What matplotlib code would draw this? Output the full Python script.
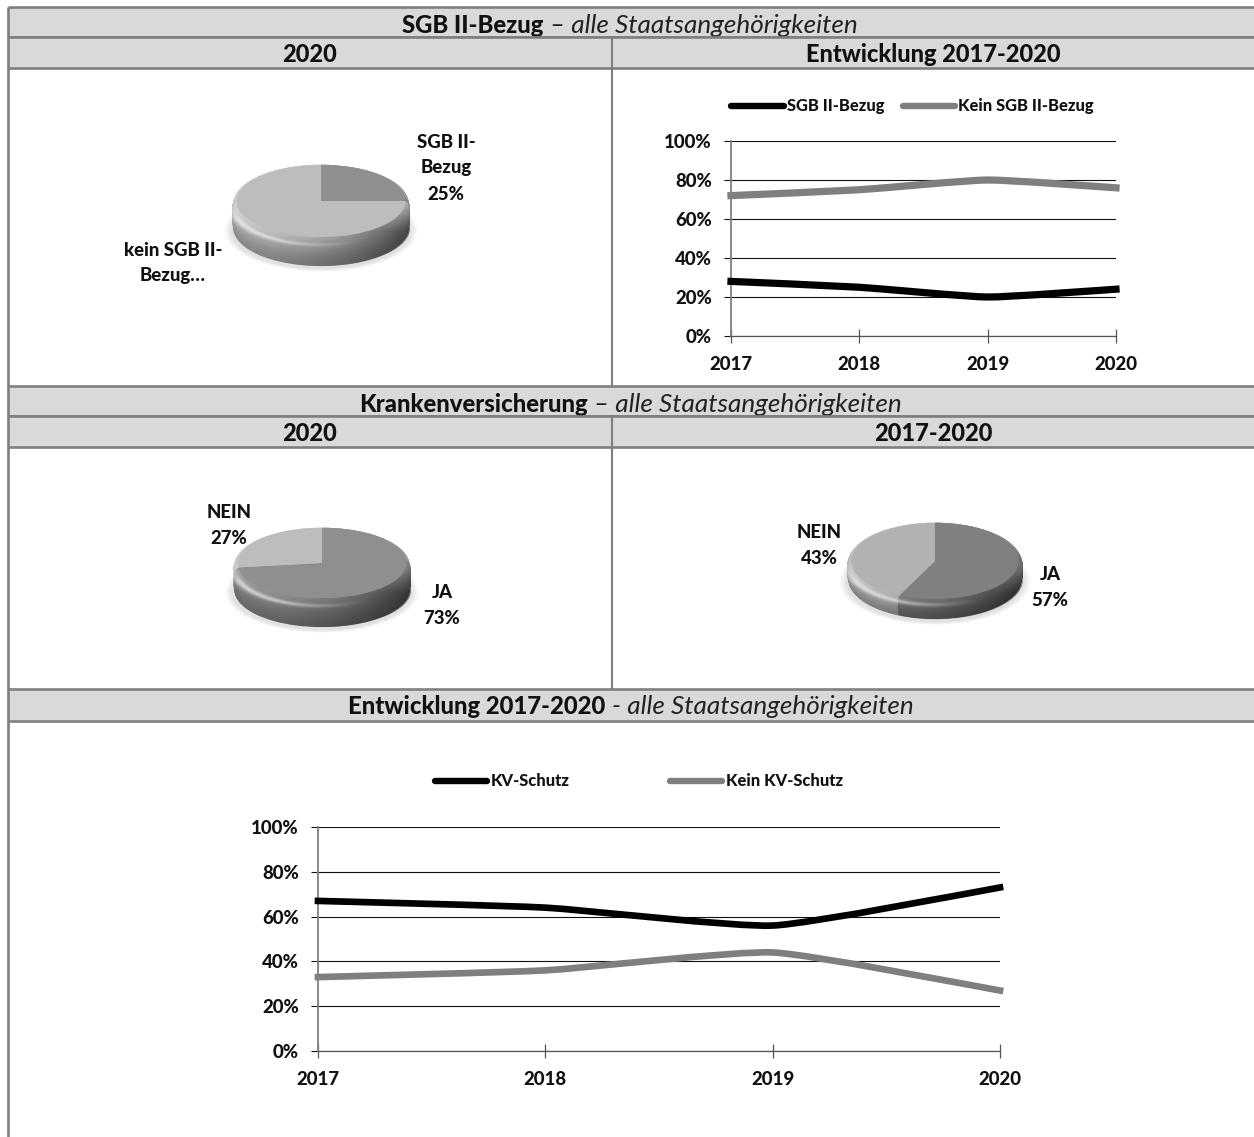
"""Datenblatt SGB II-Bezug / Krankenversicherung: Tabelle mit Kreis- und Liniendiagrammen."""
import matplotlib

matplotlib.use("Agg")
import matplotlib.pyplot as plt
import numpy as np
from matplotlib.lines import Line2D
from matplotlib.patches import Ellipse, PathPatch, Polygon, Rectangle
from matplotlib.path import Path

plt.rcParams["font.family"] = ["Lato", "DejaVu Sans"]

W, H = 1254, 1137
GRAY_LINE = "#7f7f7f"
GRAY_FILL = "#d9d9d9"
BOLD = 900

years = ["2017", "2018", "2019", "2020"]
pct_ticks = [0, 20, 40, 60, 80, 100]

sgb_ja = [28, 25, 20, 24]
sgb_nein = [72, 75, 80, 76]
kv_ja = [67, 64, 56, 73]
kv_nein = [33, 36, 44, 27]

pie_sgb = [25, 75]
pie_kv_2020 = [73, 27]
pie_kv_all = [57, 43]

fig = plt.figure(figsize=(W / 100, H / 100), dpi=100, facecolor="white")
bg = fig.add_axes([0, 0, 1, 1])
bg.set_xlim(0, W)
bg.set_ylim(H, 0)
bg.axis("off")


def px_axes(left, top, right, bottom):
    return fig.add_axes([left / W, 1 - bottom / H, (right - left) / W, (bottom - top) / H], facecolor="none")


def row(top, bottom, z):
    bg.add_patch(Rectangle((8, top), W - 8, bottom - top, fc=GRAY_FILL, ec="none", zorder=z))
    for y in (top, bottom):
        bg.plot([8, W], [y, y], color=GRAY_LINE, lw=1.9, zorder=z + 1, solid_capstyle="butt")


def title(center, base, bold, italic, z):
    a = bg.text(0, base, bold, fontsize=TITLE_SIZE, fontweight=BOLD, va="baseline", color="#111111", zorder=z)
    b = bg.text(0, base, italic, fontsize=ITALIC_SIZE, style="italic", va="baseline", color="#222222", zorder=z)
    rend = fig.canvas.get_renderer()
    wa = a.get_window_extent(rend).width
    wb = b.get_window_extent(rend).width
    gap = 6
    start = center - (wa + wb + gap) / 2
    a.set_x(start)
    b.set_x(start + wa + gap)


TITLE_SIZE = 17.2
ITALIC_SIZE = 18.8
HEAD_SIZE = 17
LABEL_SIZE = 13.4

# Tabellenraster: Kopfzeilen von oben nach unten, jede deckt die Unterlängen der vorigen ab
row(7, 37, 1)
title(630, 33, "SGB II-Bezug", "– alle Staatsangehörigkeiten", 3)
row(37, 68, 4)
row(385.5, 416, 1)
title(630.5, 412, "Krankenversicherung", "– alle Staatsangehörigkeiten", 3)
row(416, 447, 4)
row(689, 720.5, 1)
title(631, 714, "Entwicklung 2017-2020", "- alle Staatsangehörigkeiten", 3)

for y0, y1 in ((37, 385.5), (416, 689)):
    bg.plot([612, 612], [y0, y1], color=GRAY_LINE, lw=1.5, zorder=6)
bg.plot([8, 8], [7, H], color=GRAY_LINE, lw=1.9, zorder=6, solid_capstyle="butt")

for cx, base, txt in ((309.5, 62, "2020"), (933, 62, "Entwicklung 2017-2020"), (309.5, 441, "2020"), (933, 441, "2017-2020")):
    bg.text(cx, base, txt, ha="center", va="baseline", fontsize=HEAD_SIZE, fontweight=BOLD, color="#111111", zorder=7)


def shade(color, f):
    rgb = np.array(matplotlib.colors.to_rgb(color)) * f
    return tuple(np.clip(rgb, 0, 1))


def draw_pie(cx, cy, a, b, depth, values, colors):
    # Kreisdiagramm mit Wulst: gestapelte Tortenscheiben, darüber Licht und Schatten
    pad_x, pad_top, pad_bot = 14, 10, depth + 20
    ax = px_axes(cx - a - pad_x, cy - b - pad_top, cx + a + pad_x, cy + b + pad_bot)
    xlim = (-(a + pad_x) / a, (a + pad_x) / a)
    ylim = (-(b + pad_bot) / b, (b + pad_top) / b)
    dz = depth / b

    for k in range(6):
        grow = 1.0 + 0.014 * (6 - k)
        ax.add_patch(Ellipse((0, -dz - 0.04), 2 * grow, 2 * grow, fc="#000000", alpha=0.02, ec="none"))

    steps = 40
    for i in range(steps):
        t = 1 - i / (steps - 1)  # 1 unten, 0 oben
        r = 0.955 + 0.045 * np.sin(np.pi * t ** 0.75) ** 0.6 + 0.02 * t ** 4
        f = 0.74 + 0.36 * (1 - t) ** 1.5
        ax.pie(values, colors=[shade(c, f) for c in colors], startangle=90, counterclock=False,
               radius=r, center=(0, -dz * t), wedgeprops={"lw": 0}, frame=True)

    xs = np.linspace(xlim[0], xlim[1], 400)
    ys = np.linspace(ylim[0], ylim[1], 400)
    X, Y = np.meshgrid(xs, ys)
    u = np.clip(X, -1, 1)
    black = np.clip(0.02 + 0.52 * ((u + 1) / 2) ** 1.5, 0, 0.8)
    below = np.clip((-Y - 0.1) / 0.7, 0, 1)
    black = black * (0.35 + 0.65 * below)
    rho = np.sqrt(X ** 2 + (Y + dz * 0.22) ** 2)
    glow = 0.62 * np.exp(-((rho - 0.99) / 0.05) ** 2) * np.clip((0.5 - X) / 1.0, 0, 1) * np.clip(-Y * 2, 0, 1)
    rgba = np.zeros(X.shape + (4,))
    total = np.clip(black + glow, 0, 1)
    rgba[..., :3] = (glow / np.maximum(black + glow, 1e-6))[..., None]
    rgba[..., 3] = total
    im = ax.imshow(rgba, extent=(xlim[0], xlim[1], ylim[0], ylim[1]), origin="lower", aspect="auto", zorder=5)
    ang = np.linspace(0, np.pi, 90)
    upper = np.c_[np.cos(ang), np.sin(ang) - dz * 0.3]
    lower = np.c_[np.cos(ang + np.pi), np.sin(ang + np.pi) - dz * 0.97]
    hull = Polygon(np.r_[upper, lower], closed=True, transform=ax.transData, fc="none", ec="none")
    ax.add_patch(hull)
    im.set_clip_path(hull)

    ax.pie(values, colors=colors, startangle=90, counterclock=False, radius=0.95,
           wedgeprops={"lw": 0, "zorder": 6}, frame=True)
    ax.set_aspect("auto")
    ax.set_xlim(xlim)
    ax.set_ylim(ylim)
    ax.axis("off")


draw_pie(321, 201, 89, 38, 28, pie_sgb, ["#8f8f8f", "#bdbdbd"])
draw_pie(322, 563, 89, 37, 28, pie_kv_2020, ["#8f8f8f", "#bdbdbd"])
draw_pie(935, 561, 88, 40, 19, pie_kv_all, ["#808080", "#b2b2b2"])

pie_labels = [
    (446, 142, "SGB II-"), (446, 168, "Bezug"), (446, 194, "25%"),
    (173, 250, "kein SGB II-"), (173, 276, "Bezug…"),
    (229, 513, "NEIN"), (229, 539, "27%"),
    (442, 593, "JA"), (442, 619, "73%"),
    (819, 533, "NEIN"), (819, 559, "43%"),
    (1050, 574, "JA"), (1050, 600, "57%"),
]
for x, y, txt in pie_labels:
    bg.text(x, y, txt, ha="center", va="center", fontsize=LABEL_SIZE, fontweight=BOLD, color="#111111", zorder=7)


def smooth_line(ax, values, color, lw):
    # geglättete Linie als Bezier-Kurve durch die Jahreswerte
    pts = np.c_[np.arange(len(values), dtype=float), np.asarray(values, dtype=float)]
    verts = [pts[0]]
    codes = [Path.MOVETO]
    for i in range(len(pts) - 1):
        prev = pts[max(i - 1, 0)]
        nxt = pts[min(i + 2, len(pts) - 1)]
        verts += [pts[i] + (pts[i + 1] - prev) / 12, pts[i + 1] - (nxt - pts[i]) / 12, pts[i + 1]]
        codes += [Path.CURVE4] * 3
    ax.add_patch(PathPatch(Path(verts, codes), fc="none", ec=color, lw=lw, capstyle="projecting",
                           clip_on=False, zorder=4))


def line_chart(rect, a_vals, b_vals, names, legend_anchor, col_space, tick_pad_x, lw):
    ax = px_axes(*rect)
    ax.set_xlim(0, 3)
    ax.set_ylim(0, 100)
    ax.set_xticks(range(len(years)), years)
    ax.set_yticks(pct_ticks, [f"{v}%" for v in pct_ticks])
    ax.grid(axis="y", color="#111111", lw=0.8, zorder=1)
    for s in ("top", "right"):
        ax.spines[s].set_visible(False)
    ax.spines["bottom"].set_color("#555555")
    ax.spines["bottom"].set_linewidth(0.9)
    ax.spines["left"].set_color(GRAY_LINE)
    ax.spines["left"].set_linewidth(1.3)
    ax.tick_params(axis="y", length=5.2, width=0.8, color="#111111", pad=8.5, labelsize=LABEL_SIZE)
    ax.tick_params(axis="x", length=9.5, width=0.9, color="#555555", direction="inout", pad=tick_pad_x,
                   labelsize=LABEL_SIZE)
    for lab in ax.get_xticklabels() + ax.get_yticklabels():
        lab.set_fontweight(BOLD)
        lab.set_color("#111111")
    for tick in ax.xaxis.get_major_ticks():
        tick.tick1line.set_clip_on(False)
    smooth_line(ax, a_vals, "black", lw)
    smooth_line(ax, b_vals, GRAY_LINE, lw)
    handles = [Line2D([], [], color="black", lw=4.6, solid_capstyle="round"),
               Line2D([], [], color=GRAY_LINE, lw=4.6, solid_capstyle="round")]
    leg = ax.legend(handles, names, ncol=2, loc="center", bbox_to_anchor=legend_anchor,
                    bbox_transform=bg.transData, frameon=False, handlelength=3.15, handletextpad=0.2,
                    columnspacing=col_space, prop={"size": 11.9, "weight": BOLD})
    for t in leg.get_texts():
        t.set_color("#111111")


line_chart((731, 141, 1116, 336), sgb_ja, sgb_nein, ["SGB II-Bezug", "Kein SGB II-Bezug"], (912.5, 106.5), 1.1, 10, 5.2)
line_chart((318, 827, 1000, 1051), kv_ja, kv_nein, ["KV-Schutz", "Kein KV-Schutz"], (639, 781.5), 6.1, 10, 4.8)

fig.savefig("out.png", dpi=100)
plt.close(fig)
